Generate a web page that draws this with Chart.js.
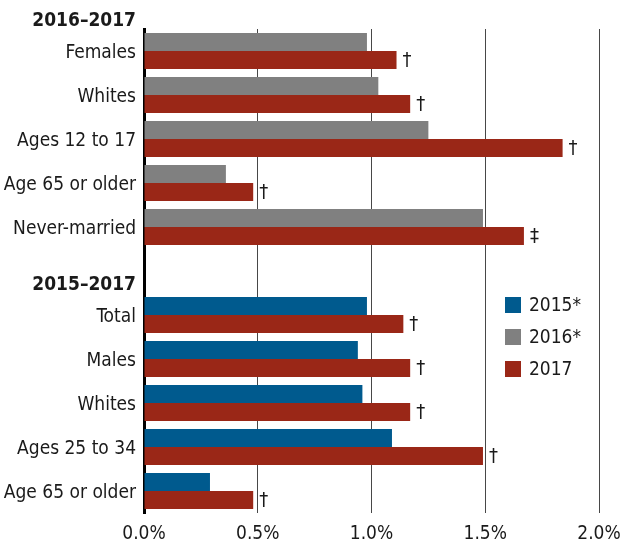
<!DOCTYPE html>
<html>
<head>
<meta charset="utf-8">
<script src="https://cdn.jsdelivr.net/npm/chart.js@4"></script>
<style>
  html, body { margin: 0; padding: 0; background: #fff; }
  #wrap { width: 629px; height: 544px; position: relative; }
</style>
</head>
<body>
<div id="wrap"><canvas id="c" width="629" height="544"></canvas></div>
<script>
const categories = ['Females', 'Whites', 'Ages 12 to 17', 'Age 65 or older', 'Never-married', '',
                    'Total', 'Males', 'Whites', 'Ages 25 to 34', 'Age 65 or older'];
const headers = ['2016\u20132017', '2015\u20132017'];
const headerRows = [0, 6];
const values2015 = [null, null, null, null, null, null, 0.98, 0.94, 0.96, 1.09, 0.29];
const values2016 = [0.98, 1.03, 1.25, 0.36, 1.49, null, null, null, null, null, null];
const values2017 = [1.11, 1.17, 1.84, 0.48, 1.67, null, 1.14, 1.17, 1.17, 1.49, 0.48];
const markers2017 = ['\u2020', '\u2020', '\u2020', '\u2020', '\u2021', '', '\u2020', '\u2020', '\u2020', '\u2020', '\u2020'];
const xTicks = [0, 0.5, 1.0, 1.5, 2.0];

const FONT = "'DejaVu Sans Condensed', 'Liberation Sans Narrow', sans-serif";
const TEXT = '#1a1a1a';

const extras = {
  id: 'extras',
  afterDraw(chart) {
    const ctx = chart.ctx;
    const y = chart.scales.y;
    const area = chart.chartArea;
    const rowH = (area.bottom - area.top) / categories.length;
    ctx.save();
    // section headers
    ctx.font = 'bold 19px ' + FONT;
    ctx.fillStyle = TEXT;
    ctx.textAlign = 'right';
    ctx.textBaseline = 'middle';
    headers.forEach((h, i) => {
      const yy = y.getPixelForValue(headerRows[i]) - rowH / 2 - 8;
      ctx.fillText(h, area.left - 8, yy);
    });
    // significance markers after 2017 bars
    ctx.font = '20px ' + FONT;
    ctx.textAlign = 'left';
    const meta = chart.getDatasetMeta(2);
    meta.data.forEach((bar, i) => {
      const m = markers2017[i];
      if (!m || values2017[i] == null) return;
      ctx.fillText(m, bar.x + 6, bar.y + 1);
    });
    // legend
    ctx.font = '19px ' + FONT;
    const lx = 505, ly = 297;
    chart.data.datasets.forEach((ds, i) => {
      const yy = ly + i * 32;
      ctx.fillStyle = ds.backgroundColor;
      ctx.fillRect(lx, yy, 16, 16);
      ctx.fillStyle = TEXT;
      ctx.fillText(ds.label, lx + 24, yy + 9);
    });
    ctx.restore();
  }
};

new Chart(document.getElementById('c'), {
  type: 'bar',
  data: {
    labels: categories,
    datasets: [
      { label: '2015*', data: values2015, backgroundColor: '#005a8e', stack: 'prior' },
      { label: '2016*', data: values2016, backgroundColor: '#808080', stack: 'prior' },
      { label: '2017', data: values2017, backgroundColor: '#9a2717', stack: 'current' }
    ]
  },
  options: {
    indexAxis: 'y',
    responsive: false,
    animation: false,
    devicePixelRatio: 1,
    layout: { padding: { top: 29, right: 30, bottom: 0, left: 0 } },
    datasets: { bar: { categoryPercentage: 36 / 44, barPercentage: 1, borderWidth: 0 } },
    plugins: { legend: { display: false }, tooltip: { enabled: false } },
    scales: {
      x: {
        type: 'linear', min: 0, max: 2, stacked: true, z: 1,
        afterBuildTicks(scale) { scale.ticks = xTicks.map(v => ({ value: v })); },
        afterFit(scale) { scale.height = 31; scale.paddingLeft = 0; scale.paddingRight = 0; },
        grid: {
          drawTicks: false, tickLength: 0,
          color: ctx => ctx.index === 0 ? 'rgba(0,0,0,0)' : 'rgba(0,0,0,0.72)',
          lineWidth: 1
        },
        border: { display: false },
        ticks: {
          padding: 10,
          color: TEXT,
          font: { family: FONT, size: 19 },
          callback: v => Number(v).toFixed(1) + '%'
        }
      },
      y: {
        stacked: true, z: 1,
        afterFit(scale) { scale.width = 144; },
        grid: { display: false, drawTicks: false },
        border: { display: true, color: '#000', width: 3 },
        ticks: {
          padding: 8,
          labelOffset: 2,
          color: TEXT,
          font: { family: FONT, size: 19 }
        }
      }
    }
  },
  plugins: [extras]
});
</script>
</body>
</html>
